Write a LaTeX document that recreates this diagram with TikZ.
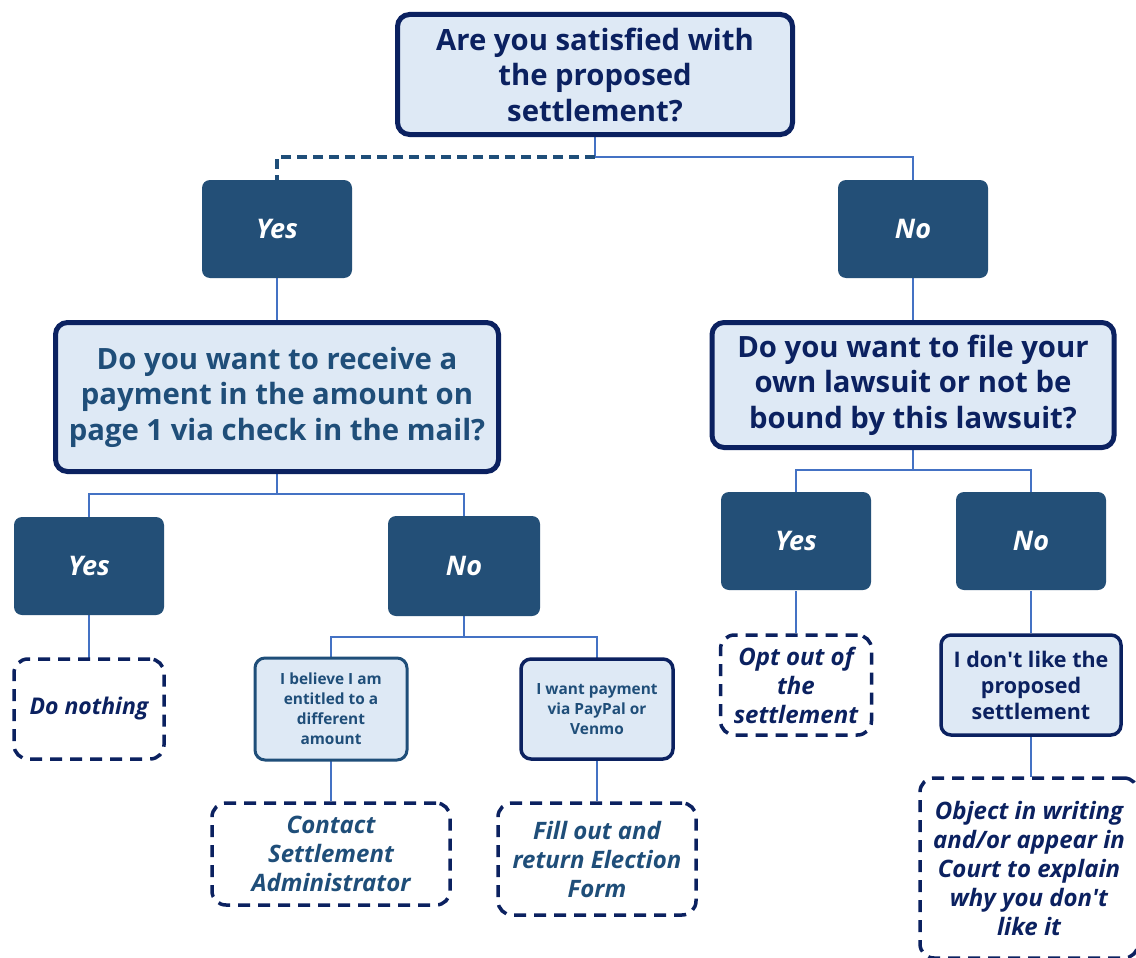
\documentclass[tikz,border=0pt]{standalone}
\usepackage{fontspec}
\setmainfont{Open Sans}
\definecolor{navy}{HTML}{0B2160}
\definecolor{steel}{HTML}{1F4E79}
\definecolor{darkfill}{HTML}{234F77}
\definecolor{pale}{HTML}{DEE9F5}
\definecolor{linkc}{HTML}{4472C4}
\tikzset{
  qbox/.style={draw=navy, line width=5pt, fill=pale, rounded corners=12pt, align=center, inner sep=0pt, font=\bfseries\fontsize{29.3}{35.5}\selectfont},
  ansbox/.style={fill=darkfill, rounded corners=8pt, text=white, inner sep=0pt, font=\bfseries\itshape\fontsize{27}{32}\selectfont, minimum width=150pt, minimum height=98pt},
  smallbox/.style={draw=navy, line width=3.5pt, fill=pale, rounded corners=10pt, text=steel, align=center, inner sep=0pt, font=\bfseries\fontsize{15.4}{20}\selectfont},
  actbox/.style={draw=navy, line width=3.5pt, dash pattern=on 12pt off 8pt, fill=white, rounded corners=14pt, align=center, inner sep=0pt, font=\bfseries\itshape\fontsize{24}{29}\selectfont},
  linkline/.style={draw=linkc, line width=2.5pt},
  dashlink/.style={draw=steel, line width=4pt, dash pattern=on 10pt off 6pt},
}
\begin{document}
\begin{tikzpicture}[x=1pt,y=-1pt]
\fill[white] (0,0) rectangle (1136,958);
\useasboundingbox (0,0) rectangle (1136,958);

% coordinates for junctions
\coordinate (j1) at (595,157);
\coordinate (j2) at (277,494);
\coordinate (j3) at (464,637);
\coordinate (j4) at (913,470);

% connectors
\draw[linkline] (595,137) -- (j1) -| (913,180);
\draw[dashlink] (j1) -| (277,180);
\draw[linkline] (277,278) -- (277,321);
\draw[linkline] (277,474) -- (j2) -| (89,517);
\draw[linkline] (j2) -| (464,517);
\draw[linkline] (89,615) -- (89,658);
\draw[linkline] (464,615) -- (j3) -| (331,658);
\draw[linkline] (j3) -| (597,658);
\draw[linkline] (331,760) -- (331,801);
\draw[linkline] (597,760) -- (597,801);
\draw[linkline] (913,278) -- (913,321);
\draw[linkline] (913,450) -- (j4) -| (796,492);
\draw[linkline] (j4) -| (1031,492);
\draw[linkline] (796,591) -- (796,633);
\draw[linkline] (1031,591) -- (1031,633);
\draw[linkline] (1031,737) -- (1031,777);

% boxes
\node[qbox, text=navy, minimum width=395pt, minimum height=120pt] (q1) at (595,74.5) {Are you satisfied with\\the proposed\\settlement?};
\node[ansbox] (yes1) at (277,229) {Yes};
\node[ansbox] (no1) at (913,229) {No};
\node[qbox, text=steel, minimum width=443pt, minimum height=149pt] (q2) at (277,397) {Do you want to receive a\\payment in the amount on\\page 1 via check in the mail?};
\node[qbox, text=navy, minimum width=402pt, minimum height=125pt] (q3) at (913,385) {Do you want to file your\\own lawsuit or not be\\bound by this lawsuit?};
\node[ansbox] (yes2) at (89,566) {Yes};
\node[ansbox, minimum width=152pt, minimum height=100pt] (no2) at (464,566) {No};
\node[ansbox] (yes3) at (796,541) {Yes};
\node[ansbox] (no3) at (1031,541) {No};
\node[actbox, text=navy, font=\bfseries\itshape\fontsize{23}{29}\selectfont, minimum width=150pt, minimum height=100pt] (nothing) at (89,709) {Do nothing};
\node[smallbox, draw=steel, line width=3pt, minimum width=152pt, minimum height=102pt] (believe) at (331,709) {I believe I am\\entitled to a\\different\\amount};
\node[smallbox, minimum width=152pt, minimum height=100pt] (paypal) at (597,709) {I want payment\\via PayPal or\\Venmo};
\node[actbox, text=steel, minimum width=238pt, minimum height=102pt] (contact) at (331,854) {Contact\\Settlement\\Administrator};
\node[actbox, text=steel, minimum width=198pt, minimum height=112pt] (fillout) at (597,859) {Fill out and\\return Election\\Form};
\node[actbox, text=navy, minimum width=151pt, minimum height=100pt] (optout) at (796,685) {Opt out of\\the\\settlement};
\node[smallbox, text=navy, font=\bfseries\fontsize{21.5}{26}\selectfont, minimum width=180pt, minimum height=100pt] (dislike) at (1031,685) {I don\textquotesingle t like the\\proposed\\settlement};
\node[actbox, text=navy, minimum width=218pt, minimum height=180pt] (object) at (1029,868) {Object in writing\\and/or appear in\\Court to explain\\why you don\textquotesingle t\\like it};
\end{tikzpicture}
\end{document}
